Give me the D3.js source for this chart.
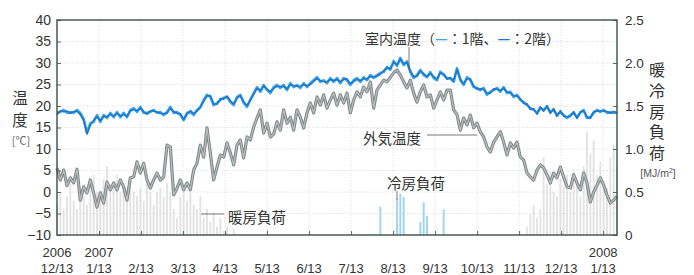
<!DOCTYPE html>
<html><head><meta charset="utf-8">
<script src="https://cdn.jsdelivr.net/npm/d3@7"></script>
<style>
body{margin:0;background:#fff;}
svg{display:block;}
</style></head><body>
<svg id="chart" width="694" height="275"></svg>
<script>
// ---- data ----
const monthLabels = ["12/13","1/13","2/13","3/13","4/13","5/13","6/13","7/13","8/13","9/13","10/13","11/13","12/13","1/13"];
const yearLabels  = ["2006","2007","","","","","","","","","","","","2008"];
const tempTicks = [-10,-5,0,5,10,15,20,25,30,35,40];
const loadTicks = [0,0.5,1.0,1.5,2.0,2.5];

// samples evenly spaced from 2006/12/13 to ~2008/1/23
const outdoor = [
 5.6, 2.8, 5.1, 1.5, 3.3, 2.1, 5.3, -1.9, 1.2, -0.2,
 2.8, -0.2, -3.5, -0.2, -2.6, 2.3, 0.5, 2.1, 0.5, 2.8,
 1.2, -1.9, 3.3, 3.5, 7.0, 4.4, 6.7, 2.8, 0.9, 2.8,
 4.4, 2.8, 3.5, 10.9, 10.5, -0.7, 0.9, 2.8, 0.5, 2.1,
 0.5, 5.1, 6.7, 10.9, 8.1, 14.9, 9.1, 2.8, 5.8, 8.6,
 8.1, 11.4, 9.1, 6.3, 10.9, 12.1, 7.9, 12.8, 12.1,
 15.1, 17.2, 19.1, 13.7, 16.0, 12.8, 13.5, 16.3, 14.4, 19.1,
 16.0, 17.4, 14.4, 19.1, 17.4, 14.9, 18.4, 20.7, 18.4, 22.1,
 20.2, 22.6, 19.5, 21.4, 23.0, 20.2, 22.6, 20.7, 23.0, 18.4,
 21.4, 23.3, 22.1, 24.4, 23.3, 25.6, 19.5, 23.7, 24.9, 26.0,
 25.6, 26.7, 27.7, 28.4, 27.2, 25.6, 24.2, 26.0, 23.0, 20.9,
 23.3, 24.9, 22.1, 22.6, 19.5, 21.4, 23.3, 21.4, 23.7, 23.7,
 19.1, 18.0, 14.4, 17.2, 15.6, 17.9, 14.9, 16.0, 14.0, 12.8,
 10.5, 9.3, 11.6, 12.8, 14.0, 11.6, 8.6, 11.4, 10.2, 11.6,
 8.1, 7.4, 4.4, 3.5, 2.8, 5.1, 6.3, 5.6, 4.0, 2.1,
 4.4, 3.3, 5.8, 3.5, 1.2, 0.9, 4.0, 2.1, 0.5, 4.4,
 2.1, -2.3, 0.0, 1.6, 3.3, 1.6, -0.7, -2.6, -1.9, -1.0
];
const indoor1F = [
 18.4, 18.6, 19.1, 18.4, 18.6, 18.4, 19.1, 18.4, 17.0, 13.8,
 16.0, 16.3, 17.9, 16.3, 17.9, 17.2, 18.4, 17.4, 18.6, 17.4,
 18.4, 17.4, 19.1, 19.5, 18.6, 19.8, 18.4, 18.4, 18.6, 19.1,
 18.4, 18.6, 17.9, 18.6, 19.8, 18.4, 18.6, 17.9, 16.7, 18.4,
 18.6, 17.9, 19.1, 19.8, 21.4, 22.6, 22.1, 20.2, 20.7, 21.4,
 21.9, 22.1, 20.9, 20.2, 22.1, 22.6, 20.7, 19.8, 21.5,
 23.0, 24.4, 23.3, 24.9, 23.7, 23.0, 24.4, 24.9, 24.2, 24.9,
 23.7, 25.3, 24.4, 24.9, 24.2, 25.3, 24.4, 25.3, 26.0, 26.7,
 25.6, 26.0, 25.3, 26.5, 25.6, 26.5, 25.3, 26.5, 26.0, 24.9,
 26.0, 26.5, 25.6, 26.7, 26.0, 27.2, 26.5, 27.2, 27.7, 27.9,
 29.1, 28.4, 30.5, 29.3, 31.2, 29.5, 30.4, 27.9, 26.5, 27.2,
 28.4, 27.2, 26.7, 27.9, 26.5, 26.0, 28.0, 27.2, 26.5, 26.4,
 25.6, 28.8, 26.0, 24.9, 26.7, 26.0, 24.4, 24.2, 23.7, 24.2,
 22.6, 23.3, 23.7, 24.2, 23.3, 24.4, 23.0, 23.3, 22.1, 22.6,
 21.4, 20.9, 20.2, 19.5, 19.1, 18.4, 19.5, 19.1, 19.8, 18.6,
 19.1, 17.9, 18.6, 17.9, 17.2, 17.9, 18.4, 17.4, 18.4, 19.1,
 17.2, 17.4, 18.4, 19.1, 18.6, 19.1, 18.4, 18.6, 18.4, 18.6
];
const indoor2F = [
 18.0, 18.9, 18.7, 18.8, 18.3, 18.7, 18.8, 18.0, 16.6, 13.5,
 15.6, 16.7, 17.5, 16.6, 17.6, 17.5, 18.1, 17.7, 18.3, 17.7,
 18.1, 17.6, 18.8, 19.2, 18.9, 19.5, 18.7, 18.1, 18.9, 18.8,
 18.6, 18.3, 18.2, 18.3, 19.5, 18.7, 18.3, 18.2, 16.9, 18.1,
 18.9, 18.2, 18.8, 19.6, 21.1, 22.3, 22.4, 20.5, 20.4, 21.7,
 21.6, 22.3, 21.2, 20.5, 21.8, 22.4, 21.0, 20.1, 21.3,
 22.7, 24.1, 23.6, 24.6, 24.0, 23.3, 24.1, 24.6, 24.5, 24.6,
 24.0, 25.0, 24.7, 24.6, 24.5, 25.0, 24.7, 25.0, 25.7, 26.4,
 25.9, 25.7, 25.6, 26.2, 25.9, 26.2, 25.6, 26.2, 26.3, 25.2,
 25.7, 26.2, 25.9, 26.4, 26.3, 26.9, 26.8, 26.9, 27.4, 28.2,
 28.8, 28.7, 30.2, 29.6, 30.9, 29.8, 30.1, 28.2, 26.8, 26.9,
 28.1, 27.5, 26.9, 27.6, 26.8, 26.3, 27.7, 27.5, 26.2, 26.6,
 25.9, 28.5, 26.3, 25.2, 26.4, 26.3, 24.7, 23.9, 24.0, 23.9,
 22.9, 23.0, 24.0, 23.9, 23.6, 24.1, 23.3, 23.0, 22.4, 22.3,
 21.7, 20.6, 20.5, 19.2, 19.4, 18.1, 19.8, 18.8, 20.1, 18.3,
 19.4, 17.6, 18.9, 17.6, 17.5, 17.6, 18.7, 17.1, 18.7, 18.8,
 17.5, 17.1, 18.7, 18.8, 18.9, 18.8, 18.7, 18.3, 18.7, 18.3
];
const heatingLoad = [
 0.35, 0.5, 0.3, 0.45, 0.6, 0.4, 0.3, 0.55, 0.45, 0.35,
 0.6, 0.7, 0.5, 0.45, 0.65, 0.8, 0.55, 0.6, 0.7, 0.5,
 0.55, 0.4, 0.6, 0.5, 0.45, 0.55, 0.4, 0.6, 0.5, 0.35,
 0.5, 0.55, 0.45, 0.6, 0.5, 0.3, 0.2, 0.45, 0.55, 0.4,
 0.5, 0.35, 0.3, 0.45, 0.2, 0.3, 0.15, 0.25, 0.1, 0.2,
 0.05, 0.1, 0, 0.08, 0, 0, 0, 0, 0,
 0,0,0,0,0,0,0,0,0,0, 0,0,0,0,0,0,0,0,0,0,
 0,0,0,0,0,0,0,0,0,0, 0,0,0,0,0,0,0,0,0,0,
 0,0,0,0,0,0,0,0,0,0, 0,0,0,0,0,0,0,0,0,0,
 0,0,0,0,0,0,0,0,0,0, 0,0,0,0,0,0,0,0,0,0,
 0,0,
 0.1, 0.25, 0.35, 0.2, 0.3, 0.9, 0.6, 0.75, 0.5, 0.45,
 0.65, 0.55, 0.7, 0.5, 0.75, 0.6, 0.45, 0.8, 1.2, 0.95,
 1.1, 0.7, 0.85, 0.6, 0.55, 0.9, 1.05, 0.8
];
const coolingIndex = [97, 102, 103, 104, 109, 110, 111, 116];
const coolingLoad  = [0.33, 0.42, 0.48, 0.44, 0.15, 0.38, 0.22, 0.30];

// ---- layout ----
const L = 57, R = 617, T = 20, B = 235;
const monthSpan = 13.33;
const n = outdoor.length;
const sampleMonth = i => i * monthSpan / (n - 1);
const x = d3.scaleLinear().domain([0, monthSpan]).range([L, R]);
const yT = d3.scaleLinear().domain([-10, 40]).range([B, T]);
const yL = d3.scaleLinear().domain([0, 2.5]).range([B, T]);

const numFont = "'Liberation Sans', Arial, sans-serif";
const jpFont = "'Noto Sans CJK JP', sans-serif";
const textCol = "#333";
const blue1 = "#3aa8e6", blue2 = "#1f78cf";

const svg = d3.select("#chart");
svg.append("rect").attr("width", 694).attr("height", 275).attr("fill", "#fff");

// grid
const grid = svg.append("g").attr("stroke", "#d4d4d4").attr("stroke-width", 0.8).attr("stroke-dasharray", "1,1.5");
grid.selectAll("line.h").data(tempTicks.slice(1, -1)).join("line")
  .attr("x1", L).attr("x2", R).attr("y1", d => yT(d)).attr("y2", d => yT(d));
grid.selectAll("line.v").data(d3.range(1, monthLabels.length)).join("line")
  .attr("y1", T).attr("y2", B).attr("x1", d => x(d)).attr("x2", d => x(d));

// heating bars
svg.append("g").selectAll("rect").data(heatingLoad).join("rect")
  .attr("x", (d, i) => x(sampleMonth(i)) - 0.9).attr("width", 1.8)
  .attr("y", d => yL(d)).attr("height", d => yL(0) - yL(d))
  .attr("fill", "#e2e2e2");

// cooling bars
svg.append("g").selectAll("rect").data(coolingIndex).join("rect")
  .attr("x", d => x(sampleMonth(d)) - 1).attr("width", 2)
  .attr("y", (d, i) => yL(coolingLoad[i])).attr("height", (d, i) => yL(0) - yL(coolingLoad[i]))
  .attr("fill", "#a3d5f1");

// lines
const line = d3.line().x((d, i) => x(sampleMonth(i))).y(d => yT(d));
svg.append("path").datum(outdoor).attr("d", line).attr("fill", "none")
  .attr("stroke", "#7f8787").attr("stroke-width", 3.2).attr("stroke-linejoin", "round");
svg.append("path").datum(outdoor).attr("d", line).attr("fill", "none")
  .attr("stroke", "#b9bebe").attr("stroke-width", 1.2).attr("stroke-linejoin", "round");
svg.append("path").datum(indoor1F).attr("d", line).attr("fill", "none")
  .attr("stroke", blue1).attr("stroke-width", 2.6).attr("stroke-linejoin", "round");
svg.append("path").datum(indoor2F).attr("d", line).attr("fill", "none")
  .attr("stroke", blue2).attr("stroke-width", 1.7).attr("stroke-linejoin", "round");

// axes
const leftAxis = svg.append("g").attr("transform", `translate(${L},0)`)
  .call(d3.axisLeft(yT).tickValues(tempTicks).tickSize(-4).tickPadding(6));
const rightAxis = svg.append("g").attr("transform", `translate(${R},0)`)
  .call(d3.axisRight(yL).tickValues(loadTicks).tickSize(-4).tickPadding(8)
    .tickFormat(d => d === 0 ? "0" : d.toFixed(1)));
const bottomAxis = svg.append("g").attr("transform", `translate(0,${B})`)
  .call(d3.axisBottom(x).tickValues(d3.range(0, monthLabels.length)).tickSize(-4).tickFormat(""));
[leftAxis, rightAxis, bottomAxis].forEach(g => {
  g.select(".domain").remove();
  g.selectAll(".tick line").attr("stroke", "#4a5a55").attr("stroke-width", 0.9);
  g.selectAll(".tick text").attr("font-family", numFont).attr("fill", textCol);
});
leftAxis.selectAll(".tick text").attr("font-size", 14);
rightAxis.selectAll(".tick text").attr("font-size", 13.5);
bottomAxis.selectAll(".tick line").filter(d => d === 0).remove();

// x labels (two lines)
const xl = svg.append("g").attr("font-family", numFont).attr("font-size", 13).attr("fill", textCol).attr("text-anchor", "middle");
xl.selectAll("text.m").data(monthLabels).join("text")
  .attr("x", (d, i) => x(i)).attr("y", 273).text(d => d);
xl.selectAll("text.yr").data(yearLabels).join("text")
  .attr("x", (d, i) => x(i)).attr("y", 257).text(d => d);

// frame
svg.append("rect").attr("x", L).attr("y", T).attr("width", R - L).attr("height", B - T)
  .attr("fill", "none").attr("stroke", "#3d4d48").attr("stroke-width", 1.4);

// axis titles (vertical text)
svg.append("text").attr("x", 20).attr("y", 90)
  .attr("font-family", jpFont).attr("fill", textCol).attr("font-size", 15.5)
  .style("writing-mode", "vertical-rl").attr("letter-spacing", 6.5).text("温度");
svg.append("text").attr("x", 21).attr("y", 145).attr("text-anchor", "middle")
  .attr("font-family", jpFont).attr("font-size", 11).attr("fill", "#666").text("[℃]");

svg.append("text").attr("x", 657).attr("y", 62)
  .attr("font-family", jpFont).attr("fill", textCol).attr("font-size", 16)
  .style("writing-mode", "vertical-rl").attr("letter-spacing", 4.8).text("暖冷房負荷");
const mj = svg.append("text").attr("x", 658).attr("y", 177).attr("text-anchor", "middle")
  .attr("font-size", 10.5).attr("font-family", numFont).attr("fill", "#555");
mj.append("tspan").text("[MJ/m");
mj.append("tspan").attr("font-size", 7).attr("dy", -4).text("2");
mj.append("tspan").attr("dy", 4).text("]");

// annotations
const ann = svg.append("g").attr("font-family", jpFont).attr("fill", textCol).attr("font-size", 14.5);
const t1 = ann.append("text").attr("x", 365).attr("y", 38).attr("dominant-baseline", "central").attr("font-size", 14);
t1.append("tspan").text("室内温度（");
t1.append("tspan").attr("fill", blue1).attr("font-weight", "bold").text("—");
t1.append("tspan").text("：1階、");
t1.append("tspan").attr("fill", blue2).attr("font-weight", "bold").text("—");
t1.append("tspan").text("：2階）");
ann.append("text").attr("x", 363).attr("y", 137).attr("dominant-baseline", "central").text("外気温度");
ann.append("text").attr("x", 387).attr("y", 182).attr("dominant-baseline", "central").text("冷房負荷");
ann.append("text").attr("x", 228).attr("y", 216).attr("dominant-baseline", "central").text("暖房負荷");

const lead = svg.append("g").attr("stroke", "#555").attr("stroke-width", 0.8);
lead.append("line").attr("x1", 409).attr("x2", 409).attr("y1", 47).attr("y2", 68);
lead.append("line").attr("x1", 427).attr("x2", 477).attr("y1", 135).attr("y2", 135);
lead.append("line").attr("x1", 397).attr("x2", 397).attr("y1", 191).attr("y2", 200);
lead.append("line").attr("x1", 201).attr("x2", 224).attr("y1", 214).attr("y2", 214);
</script>
</body></html>
